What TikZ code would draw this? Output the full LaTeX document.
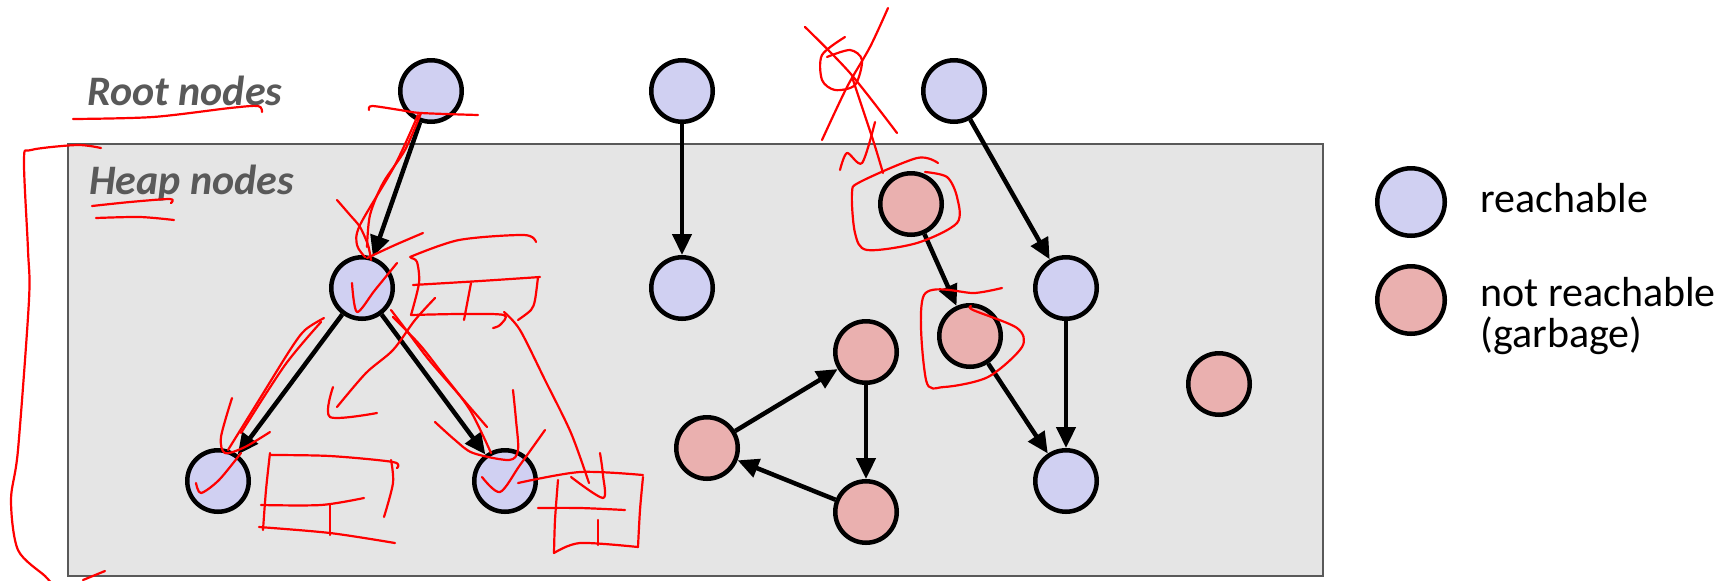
\documentclass[tikz,border=0pt]{standalone}
\usepackage{fontspec}
\setmainfont{Carlito}
\usetikzlibrary{arrows.meta}

\definecolor{livefill}{HTML}{D0D0F2}
\definecolor{deadfill}{HTML}{EAB0AF}
\definecolor{heapbg}{HTML}{E5E5E5}
\definecolor{labelgray}{HTML}{595959}

\tikzset{
  obj/.style={circle, draw=black, line width=2.25pt, minimum size=30.75pt, inner sep=0pt},
  live/.style={obj, fill=livefill},
  dead/.style={obj, fill=deadfill},
  ptr/.style={-{Triangle[length=10.5pt,width=9.5pt]}, line width=2.25pt},
  ink/.style={red, line width=1.1pt, line cap=round, line join=round},
  heading/.style={font=\fontsize{21}{25}\selectfont\bfseries\itshape, text=labelgray, anchor=base west, inner sep=0pt},
  keytext/.style={font=\fontsize{21}{25}\selectfont, anchor=base west, inner sep=0pt}
}

\begin{document}
\begin{tikzpicture}[x=0.5pt, y=-0.5pt]
        \useasboundingbox (0,0) rectangle (1733,580);

        % heap area
        \draw[fill=heapbg, draw=labelgray, line width=1.2pt] (68,144) rectangle (1323,576);
        \node[heading] (rootlbl) at (87,105) {Root nodes};
        \node[heading] (heaplbl) at (89,194) {Heap nodes};

        % roots
        \node[live] (root1) at (431,91) {};
        \node[live] (root2) at (682,91) {};
        \node[live] (root3) at (954,91) {};

        % heap objects
        \node[live] (a) at (362,288) {};
        \node[live] (b) at (218,481) {};
        \node[live] (c) at (505,481) {};
        \node[live] (d) at (682,288) {};
        \node[dead] (e) at (911,204) {};
        \node[dead] (f) at (970,336) {};
        \node[live] (g) at (1066,288) {};
        \node[live] (k) at (1066,481) {};
        \node[dead] (p) at (866,352) {};
        \node[dead] (q) at (707,448) {};
        \node[dead] (s) at (866,512) {};
        \node[dead] (t) at (1219,384) {};

        \draw[ptr] (root1) -- (a);
        \draw[ptr] (root2) -- (d);
        \draw[ptr] (root3) -- (g);
        \draw[ptr] (a) -- (b);
        \draw[ptr] (a) -- (c);
        \draw[ptr] (e) -- (f);
        \draw[ptr] (f) -- (k);
        \draw[ptr] (g) -- (k);
        \draw[ptr] (q) -- (p);
        \draw[ptr] (p) -- (s);
        \draw[ptr] (s) -- (q);

        % legend
        \node[live, minimum size=33.75pt] (key1) at (1411,202) {};
        \node[dead, minimum size=33.75pt] (key2) at (1411,300) {};
        \node[keytext] (key1txt) at (1480,212) {reachable};
        \node[keytext] (key2txt) at (1480,306) {not reachable};
        \node[keytext] (key3txt) at (1480,347) {(garbage)};

        % pen marks
        \draw[ink] plot[smooth] coordinates {(73,119) (153,117) (230,108) (258,106) (262,112)};
        \draw[ink] plot[smooth] coordinates {(101,148) (77,145) (31,150) (24,160) (28,250) (29,300) (18,450) (11,500) (18,550) (45,576) (52,584)};
        \draw[ink] (83,580) -- (105,571);
        \draw[ink] plot[smooth] coordinates {(92,206) (130,202) (170,199) (171,203)};
        \draw[ink] plot[smooth] coordinates {(96,218) (140,217) (174,220)};

        \draw[ink] plot[smooth] coordinates {(369,110) (372,106) (400,110) (421,113) (478,115)};
        \draw[ink] plot[smooth] coordinates {(421,113) (405,150) (383,183) (370,215) (367,247)};
        \draw[ink] plot[smooth] coordinates {(418,115) (395,165) (360,225) (357,245) (365,257)};
        \draw[ink] plot[smooth] coordinates {(337,200) (350,215) (360,227) (368,245) (371,260)};
        \draw[ink] plot[smooth] coordinates {(367,258) (395,245) (423,233)};
        \draw[ink] plot[smooth] coordinates {(352,283) (357,312) (375,290) (397,263)};

        \draw[ink] plot[smooth] coordinates {(410,257) (459,240) (524,235) (536,242)};
        \draw[ink] plot[smooth] coordinates {(411,258) (417,262) (419,283) (411,315)};
        \draw[ink] plot[smooth] coordinates {(413,285) (480,281) (540,277)};
        \draw[ink] plot[smooth] coordinates {(538,277) (535,300) (531,310) (518,320)};
        \draw[ink] plot[smooth] coordinates {(411,315) (460,314) (504,315) (500,325) (493,328)};
        \draw[ink] (471,283) -- (464,320);
        \draw[ink] plot[smooth] coordinates {(504,312) (520,330) (545,380) (571,433) (589,483)};
        \draw[ink] plot[smooth] coordinates {(435,298) (415,320) (393,350) (366,373) (337,407)};
        \draw[ink] plot[smooth] coordinates {(333,387) (330,417) (377,413)};

        \draw[ink] plot[smooth] coordinates {(324,318) (305,330) (290,350) (259,400) (228,450)};
        \draw[ink] plot[smooth] coordinates {(321,322) (285,365) (241,433)};
        \draw[ink] plot[smooth] coordinates {(391,310) (410,335) (429,360) (455,390) (487,427)};
        \draw[ink] plot[smooth] coordinates {(393,317) (420,345) (442,373) (470,410) (491,453)};

        \draw[ink] plot[smooth] coordinates {(232,398) (221,437) (225,453) (245,447) (270,432)};
        \draw[ink] plot[smooth] coordinates {(196,483) (201,493) (219,480) (241,453)};
        \draw[ink] plot[smooth] coordinates {(270,455) (330,456) (393,462) (397,468)};
        \draw[ink] plot[smooth] coordinates {(270,453) (266,490) (263,530)};
        \draw[ink] plot[smooth] coordinates {(261,505) (321,505) (364,498)};
        \draw[ink] (330,505) -- (330,535);
        \draw[ink] plot[smooth] coordinates {(259,527) (330,533) (395,543)};
        \draw[ink] plot[smooth] coordinates {(391,460) (393,483) (384,517)};

        \draw[ink] plot[smooth] coordinates {(435,422) (455,440) (473,453) (509,460) (518,450) (516,420) (513,390)};
        \draw[ink] plot[smooth] coordinates {(482,477) (500,492) (520,465) (545,430)};
        \draw[ink] plot[smooth] coordinates {(518,483) (580,472) (643,475)};
        \draw[ink] plot[smooth] coordinates {(643,477) (640,510) (638,547)};
        \draw[ink] plot[smooth] coordinates {(558,480) (555,520) (554,553)};
        \draw[ink] plot[smooth] coordinates {(554,553) (580,543) (638,547)};
        \draw[ink] plot[smooth] coordinates {(538,508) (580,508) (625,510)};
        \draw[ink] (598,520) -- (598,545);
        \draw[ink] plot[smooth] coordinates {(571,477) (603,498) (603,475) (600,453)};

        \draw[ink] plot[smooth] coordinates {(805,27) (850,73) (897,133)};
        \draw[ink] plot[smooth] coordinates {(888,8) (870,47) (847,87) (822,140)};
        \draw[ink] plot[smooth] coordinates {(845,37) (822,55) (822,80) (835,90) (855,85) (862,60) (850,50) (827,57)};
        \draw[ink] plot[smooth] coordinates {(852,77) (873,140) (883,173)};
        \draw[ink] plot[smooth] coordinates {(840,170) (847,153) (862,163) (875,122)};
        \draw[ink] plot[smooth] coordinates {(938,163) (917,158) (860,182) (852,193) (855,233) (867,250) (917,243) (957,223) (957,197) (947,177) (925,172)};
        \draw[ink] plot[smooth] coordinates {(1002,288) (975,293) (924,295) (926,380) (944,387) (988,377) (1022,347) (1017,328) (973,310) (971,306)};
\end{tikzpicture}
\end{document}
